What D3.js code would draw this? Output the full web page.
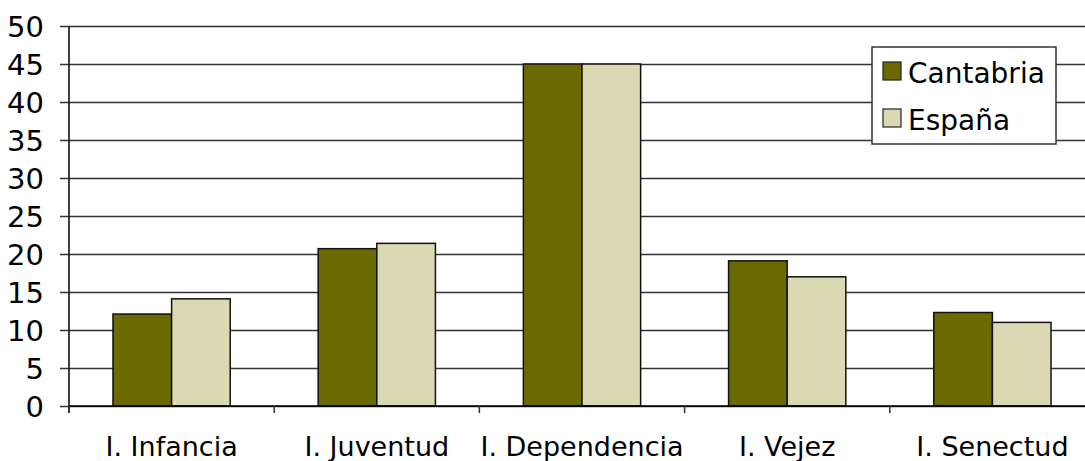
<!DOCTYPE html>
<html>
<head>
<meta charset="utf-8">
<script src="https://cdn.jsdelivr.net/npm/d3@7"></script>
<style>
  body { margin: 0; background: #fff; }
  text { font-family: "DejaVu Sans", sans-serif; fill: #000; }
</style>
</head>
<body>
<div id="chart"></div>
<script>
// indices por categoria
var categories = ["I. Infancia", "I. Juventud", "I. Dependencia", "I. Vejez", "I. Senectud"];
var seriesNames = ["Cantabria", "España"];
var cantabria = [12.1, 20.7, 45.0, 19.1, 12.3];
var espana = [14.1, 21.4, 45.0, 17.0, 11.0];
var yTicks = [0, 5, 10, 15, 20, 25, 30, 35, 40, 45, 50];
var colors = ["#6b6a00", "#dbd8b4"];

var width = 1085, height = 461,
    margin = {top: 26, right: -10, bottom: 55, left: 69};

var svg = d3.select("#chart").append("svg")
    .attr("width", width)
    .attr("height", height);

var data = categories.map(function(c, i) {
    return {cat: c, values: [cantabria[i], espana[i]]};
});

// escalas
var x0 = d3.scaleBand()
    .domain(categories)
    .range([margin.left, width - margin.right])
    .paddingInner(3 / 7)
    .paddingOuter(3 / 14);

var x1 = d3.scaleBand()
    .domain(seriesNames)
    .range([0, x0.bandwidth()]);

var y = d3.scaleLinear()
    .domain([0, 50])
    .range([height - margin.bottom, margin.top]);

// lineas de division
svg.append("g")
    .attr("class", "grid")
    .attr("transform", "translate(" + margin.left + ",0)")
    .call(d3.axisLeft(y).tickValues(yTicks).tickSize(-(width - margin.right - margin.left)).tickFormat(""))
    .call(function(g) { g.select(".domain").remove(); })
    .selectAll("line")
    .attr("stroke", "#333")
    .attr("stroke-width", 1.5);

// eje y
var yAxis = svg.append("g")
    .attr("transform", "translate(" + margin.left + ",0)")
    .call(d3.axisLeft(y).tickValues(yTicks).tickSize(9).tickPadding(16).tickSizeOuter(0));
yAxis.select(".domain").attr("stroke", "#000").attr("stroke-width", 1.5)
    .attr("d", "M0," + y(50) + "V" + (y(0) + 7));
yAxis.selectAll("line").attr("stroke", "#333").attr("stroke-width", 1.5);
yAxis.selectAll("text")
    .style("font-size", "29px")
    .attr("dy", "0.36em");

// barras
var groups = svg.selectAll(".grupo")
    .data(data)
  .enter().append("g")
    .attr("class", "grupo")
    .attr("transform", function(d) { return "translate(" + x0(d.cat) + ",0)"; });

groups.selectAll("rect")
    .data(function(d) { return d.values.map(function(v, i) { return {name: seriesNames[i], value: v, i: i}; }); })
  .enter().append("rect")
    .attr("x", function(d) { return x1(d.name); })
    .attr("y", function(d) { return y(d.value); })
    .attr("width", x1.bandwidth())
    .attr("height", function(d) { return y(0) - y(d.value); })
    .attr("fill", function(d) { return colors[d.i]; })
    .attr("stroke", "#111")
    .attr("stroke-width", 1.5);

// eje x
var step = x0.step();
var xAxis = svg.append("g")
    .attr("transform", "translate(0," + y(0) + ")");
xAxis.append("line")
    .attr("x1", margin.left)
    .attr("x2", width - margin.right)
    .attr("stroke", "#000")
    .attr("stroke-width", 1.5);
xAxis.selectAll(".tickx")
    .data(d3.range(categories.length + 1))
  .enter().append("line")
    .attr("class", "tickx")
    .attr("x1", function(i) { return margin.left + i * step; })
    .attr("x2", function(i) { return margin.left + i * step; })
    .attr("y2", 7)
    .attr("stroke", "#333")
    .attr("stroke-width", 1.5);
xAxis.selectAll(".labelx")
    .data(categories)
  .enter().append("text")
    .attr("class", "labelx")
    .attr("x", function(d) { return x0(d) + x0.bandwidth() / 2; })
    .attr("y", 50)
    .attr("text-anchor", "middle")
    .style("font-size", "27px")
    .text(function(d) { return d; });

// leyenda
var legend = svg.append("g")
    .attr("transform", "translate(872,47)");
legend.append("rect")
    .attr("width", 184)
    .attr("height", 97)
    .attr("fill", "#fff")
    .attr("stroke", "#333")
    .attr("stroke-width", 1.5);
var items = legend.selectAll(".item")
    .data(seriesNames)
  .enter().append("g")
    .attr("class", "item")
    .attr("transform", function(d, i) { return "translate(0," + (15 + i * 47) + ")"; });
items.append("rect")
    .attr("x", 11)
    .attr("width", 18)
    .attr("height", 18)
    .attr("fill", function(d, i) { return colors[i]; })
    .attr("stroke", "#222")
    .attr("stroke-width", 1.2);
items.append("text")
    .attr("x", 36)
    .attr("y", 21)
    .style("font-size", "28px")
    .text(function(d) { return d; });
</script>
</body>
</html>
